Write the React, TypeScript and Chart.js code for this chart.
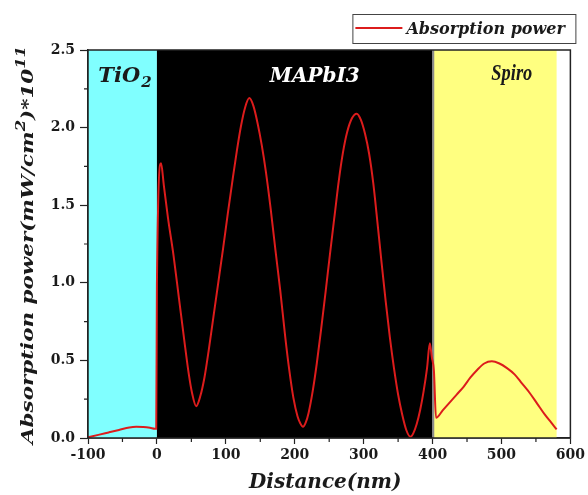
import React, { useEffect, useRef } from 'react';
import { Chart, registerables } from 'chart.js';

Chart.register(...registerables);

// ---- Data ----
const distanceNm = [
  -100, -85, -70, -55, -40, -30, -20, -10, -3, -1,
  0, 6, 10, 16, 24, 32, 40, 46, 51, 57,
  63, 69, 75, 82, 89, 96, 103, 110, 116, 122,
  128, 134, 140, 146, 152, 158, 165, 172, 179, 186,
  192, 198, 204, 208, 212, 216, 220, 226, 232, 238,
  245, 251, 258, 264, 270, 276, 283, 290, 296, 302,
  308, 314, 320, 326, 332, 338, 344, 350, 356, 362,
  368, 372, 377, 382, 387, 392, 396, 399, 402, 405,
  415, 425, 435, 445, 455, 465, 475, 486, 497, 508,
  519, 530, 541, 552, 563, 572, 580,
];
const absorptionPower = [
  0.005, 0.02, 0.036, 0.052, 0.068, 0.072, 0.071, 0.066, 0.06, 0.06,
  0.99, 1.77, 1.63, 1.42, 1.18, 0.9, 0.62, 0.42, 0.29, 0.205,
  0.27, 0.39, 0.56, 0.78, 1.0, 1.22, 1.45, 1.67, 1.85, 2.01,
  2.13, 2.19, 2.14, 2.03, 1.89, 1.72, 1.48, 1.21, 0.95, 0.66,
  0.44, 0.26, 0.14, 0.095, 0.072, 0.1, 0.16, 0.3, 0.48, 0.69,
  0.95, 1.18, 1.44, 1.66, 1.84, 1.97, 2.06, 2.09, 2.05, 1.96,
  1.83, 1.64, 1.39, 1.13, 0.88, 0.65, 0.45, 0.28, 0.15, 0.05,
  0.008, 0.03, 0.09, 0.18, 0.3, 0.45, 0.61, 0.52, 0.43, 0.13,
  0.18, 0.23, 0.28, 0.33, 0.39, 0.44, 0.48, 0.494, 0.48, 0.45,
  0.41, 0.35, 0.29, 0.22, 0.15, 0.1, 0.055,
];

const seriesLabel = 'Absorption power';

const xMajorTicks = [-100, 0, 100, 200, 300, 400, 500, 600];
const xTickLabels = ['-100', '0', '100', '200', '300', '400', '500', '600'];
const xMinorTicks = [-50, 50, 150, 250, 350, 450, 550];
const yMajorTicks = [0, 0.5, 1, 1.5, 2, 2.5];
const yTickLabels = ['0.0', '0.5', '1.0', '1.5', '2.0', '2.5'];
const yMinorTicks = [0.25, 0.75, 1.25, 1.75, 2.25];

const layerStart = [-100, 0, 402];
const layerEnd = [0, 400, 580];
const layerColors = ['#80ffff', '#000000', '#ffff80'];
const interfaceLine = 401;

const xTitle = 'Distance(nm)';
const yTitleParts = ['Absorption power(mW/cm', '2', ')*10', '11'];

const SERIF = '"DejaVu Serif", serif';
const LIB = '"Liberation Serif", serif';
const RED = '#dc1c1c';
const INK = '#1a1a1a';

const layersPlugin = {
  id: 'layers',
  beforeDatasetsDraw(chart: any) {
    const { ctx, chartArea, scales } = chart;
    const { top, bottom } = chartArea;
    const x = scales.x;
    ctx.save();
    for (let i = 0; i < layerStart.length; i++) {
      const x0 = x.getPixelForValue(layerStart[i]);
      const x1 = x.getPixelForValue(layerEnd[i]);
      ctx.fillStyle = layerColors[i];
      ctx.fillRect(x0, top, x1 - x0, bottom - top);
    }
    const xi = x.getPixelForValue(interfaceLine);
    ctx.strokeStyle = '#8c8c8c';
    ctx.lineWidth = 2;
    ctx.beginPath();
    ctx.moveTo(xi, top);
    ctx.lineTo(xi, bottom);
    ctx.stroke();

    // layer names
    ctx.textBaseline = 'alphabetic';
    ctx.fillStyle = INK;
    ctx.textAlign = 'left';
    ctx.font = `italic bold 21px ${SERIF}`;
    const tx = x.getPixelForValue(-85);
    ctx.fillText('TiO', tx, top + 32);
    const w = ctx.measureText('TiO').width;
    ctx.font = `italic bold 15px ${SERIF}`;
    ctx.fillText('2', tx + w + 1, top + 37);

    ctx.fillStyle = '#ffffff';
    ctx.textAlign = 'center';
    ctx.font = `italic bold 20px ${SERIF}`;
    ctx.fillText('MAPbI3', x.getPixelForValue(229), top + 32);

    ctx.fillStyle = INK;
    ctx.save();
    ctx.translate(x.getPixelForValue(515), top + 30);
    ctx.scale(0.8, 1);
    ctx.font = `italic bold 23px ${LIB}`;
    ctx.fillText('Spiro', 0, 0);
    ctx.restore();
    ctx.restore();
  },
  afterDatasetsDraw(chart: any) {
    const { ctx, chartArea, scales } = chart;
    const { left, right, top, bottom } = chartArea;
    ctx.save();
    ctx.strokeStyle = '#222';
    ctx.lineWidth = 1.5;
    ctx.strokeRect(left, top, right - left, bottom - top);
    // minor ticks
    ctx.lineWidth = 1.2;
    ctx.beginPath();
    for (const v of xMinorTicks) {
      const px = scales.x.getPixelForValue(v);
      ctx.moveTo(px, bottom);
      ctx.lineTo(px, bottom + 4);
    }
    for (const v of yMinorTicks) {
      const py = scales.y.getPixelForValue(v);
      ctx.moveTo(left, py);
      ctx.lineTo(left - 4, py);
    }
    ctx.stroke();
    ctx.restore();
  },
  afterDraw(chart: any) {
    const { ctx, chartArea, height } = chart;
    const { left, right, top, bottom } = chartArea;
    ctx.save();
    // legend
    const lx = right - 218;
    const ly = top - 36;
    const lw = 223;
    const lh = 29;
    ctx.fillStyle = '#ffffff';
    ctx.fillRect(lx, ly, lw, lh);
    ctx.strokeStyle = '#444';
    ctx.lineWidth = 1;
    ctx.strokeRect(lx + 0.5, ly + 0.5, lw, lh);
    ctx.strokeStyle = RED;
    ctx.lineWidth = 2;
    ctx.beginPath();
    ctx.moveTo(lx + 3, ly + 14);
    ctx.lineTo(lx + 50, ly + 14);
    ctx.stroke();
    ctx.fillStyle = INK;
    ctx.font = `italic bold 16px ${SERIF}`;
    ctx.textAlign = 'left';
    ctx.textBaseline = 'alphabetic';
    ctx.fillText(seriesLabel, lx + 54, ly + 20);

    // x title
    ctx.textAlign = 'center';
    ctx.font = `italic bold 20px ${SERIF}`;
    ctx.fillText(xTitle, (left + right) / 2 - 4, height - 7);

    // y title (rotated, with superscripts)
    const mainFont = `italic bold 17px ${SERIF}`;
    const supFont = `italic bold 13px ${SERIF}`;
    let total = 0;
    const widths: number[] = [];
    yTitleParts.forEach((t, i) => {
      ctx.font = i % 2 === 1 ? supFont : mainFont;
      const wv = ctx.measureText(t).width;
      widths.push(wv);
      total += wv;
    });
    const target = bottom - top + 10;
    const sx = target / total;
    ctx.translate(33, (top + bottom) / 2 + 1);
    ctx.rotate(-Math.PI / 2);
    ctx.scale(sx, 1);
    ctx.textAlign = 'left';
    let cx = -total / 2;
    yTitleParts.forEach((t, i) => {
      const sup = i % 2 === 1;
      ctx.font = sup ? supFont : mainFont;
      ctx.fillText(t, cx, sup ? -8 : 0);
      cx += widths[i];
    });
    ctx.restore();
  },
};

export default function App() {
  const canvasRef = useRef<HTMLCanvasElement | null>(null);

  useEffect(() => {
    const canvas = canvasRef.current;
    if (!canvas) return;
    const points = distanceNm.map((d, i) => ({ x: d, y: absorptionPower[i] }));
    const tickFont = { family: SERIF, size: 14, weight: 'bold' as const };
    const chart = new Chart(canvas, {
      type: 'line',
      data: {
        datasets: [
          {
            label: seriesLabel,
            data: points,
            borderColor: RED,
            backgroundColor: RED,
            borderWidth: 2,
            pointRadius: 0,
            cubicInterpolationMode: 'monotone',
            fill: false,
          },
        ],
      },
      options: {
        animation: false,
        responsive: true,
        maintainAspectRatio: false,
        layout: { padding: { top: 50, right: 17, left: 0, bottom: 0 } },
        plugins: {
          legend: { display: false },
          tooltip: { enabled: false },
        },
        scales: {
          x: {
            type: 'linear',
            min: -100,
            max: 600,
            afterBuildTicks: (scale: any) => {
              scale.ticks = xMajorTicks.map((v) => ({ value: v }));
            },
            afterFit: (scale: any) => {
              scale.height = 57;
            },
            ticks: {
              autoSkip: false,
              maxRotation: 0,
              padding: 3,
              color: INK,
              font: tickFont,
              callback: (v: any) => {
                const idx = xMajorTicks.indexOf(Number(v));
                return idx >= 0 ? xTickLabels[idx] : '';
              },
            },
            grid: {
              drawOnChartArea: false,
              drawTicks: true,
              tickLength: 6,
              tickColor: '#222',
              tickWidth: 1.2,
            },
            border: { color: '#222', width: 1.5 },
          },
          y: {
            type: 'linear',
            min: 0,
            max: 2.5,
            afterBuildTicks: (scale: any) => {
              scale.ticks = yMajorTicks.map((v) => ({ value: v }));
            },
            afterFit: (scale: any) => {
              scale.width = 88;
            },
            ticks: {
              autoSkip: false,
              padding: 5,
              color: INK,
              font: tickFont,
              callback: (v: any) => {
                const idx = yMajorTicks.indexOf(Number(v));
                return idx >= 0 ? yTickLabels[idx] : '';
              },
            },
            grid: {
              drawOnChartArea: false,
              drawTicks: true,
              tickLength: 8,
              tickColor: '#222',
              tickWidth: 1.2,
            },
            border: { color: '#222', width: 1.5 },
          },
        },
      },
      plugins: [layersPlugin],
    });
    return () => chart.destroy();
  }, []);

  return (
    <div style={{ position: 'fixed', left: 0, top: 0, width: 588, height: 495, background: '#fff' }}>
      <canvas ref={canvasRef} />
    </div>
  );
}
